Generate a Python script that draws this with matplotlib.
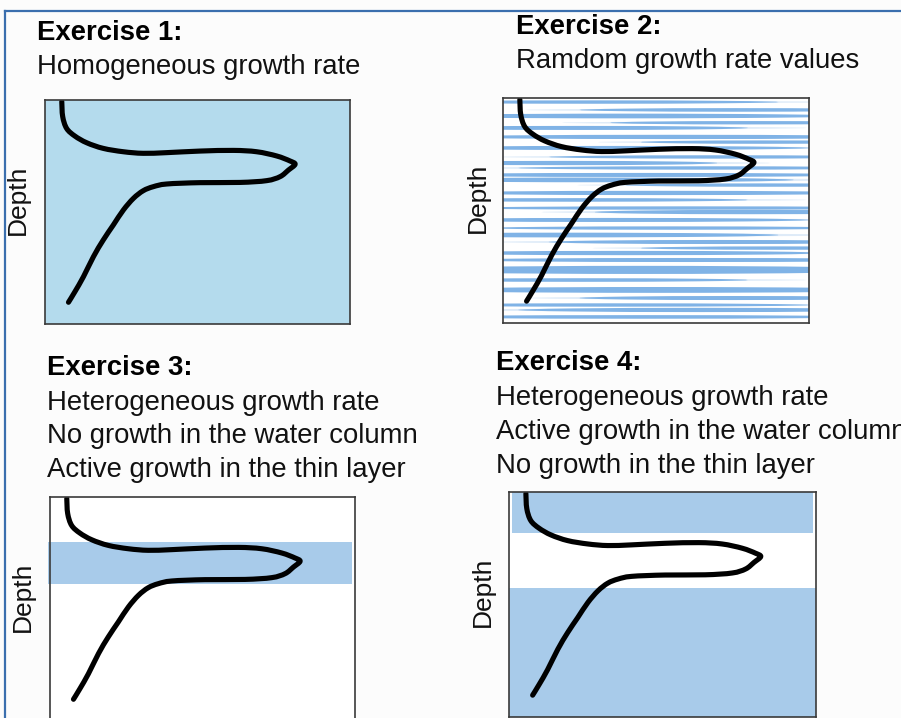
import numpy as np
import matplotlib
matplotlib.use("Agg")
import matplotlib.pyplot as plt
from matplotlib.path import Path
from matplotlib.patches import PathPatch, Ellipse, Rectangle
from matplotlib.lines import Line2D

plt.rcParams['font.family'] = ['Liberation Sans', 'DejaVu Sans']

W, H = 901, 718

# profile curve (x = concentration, depth = fraction of box height from top)
curve_x = [0.055, 0.058, 0.071, 0.098, 0.137, 0.191, 0.257, 0.322, 0.399, 0.508,
           0.618, 0.694, 0.760, 0.803, 0.820, 0.798, 0.771, 0.727, 0.639, 0.508,
           0.399, 0.355, 0.322, 0.290, 0.257, 0.224, 0.191, 0.159, 0.126, 0.098, 0.077]
curve_depth = [0.007, 0.074, 0.127, 0.161, 0.191, 0.216, 0.231, 0.238, 0.235, 0.228,
               0.225, 0.231, 0.250, 0.272, 0.287, 0.313, 0.342, 0.360, 0.368, 0.369,
               0.375, 0.387, 0.405, 0.439, 0.491, 0.558, 0.625, 0.699, 0.789, 0.856, 0.903]

# exercise 2: random growth rate streaks (depth, thickness, centre, length)
streak_depth = [0.018, 0.053, 0.080, 0.110, 0.133, 0.173, 0.196, 0.222, 0.262, 0.289,
                0.311, 0.342, 0.364, 0.387, 0.422, 0.453, 0.489, 0.507, 0.542, 0.578,
                0.609, 0.640, 0.667, 0.689, 0.720, 0.764, 0.809, 0.853, 0.889, 0.920,
                0.942, 0.973]
streak_thick = [0.015, 0.016, 0.021, 0.015, 0.018, 0.019, 0.015, 0.018, 0.015, 0.019,
                0.015, 0.018, 0.021, 0.015, 0.019, 0.016, 0.015, 0.019, 0.018, 0.015,
                0.021, 0.018, 0.015, 0.019, 0.018, 0.036, 0.016, 0.026, 0.018, 0.015,
                0.019, 0.016]
streak_center = [0.30, 0.75, 0.40, 0.80, 0.25, 0.55, 0.85, 0.35, 0.70, 0.20,
                 0.65, 0.45, 0.30, 0.85, 0.50, 0.25, 0.60, 0.80, 0.35, 0.55,
                 0.20, 0.70, 0.90, 0.40, 0.60, 0.45, 0.25, 0.50, 0.75, 0.35,
                 0.65, 0.45]
streak_length = [1.2, 1.0, 1.4, 0.9, 1.1, 1.5, 0.8, 1.3, 1.1, 1.0,
                 1.2, 1.5, 1.3, 0.9, 1.4, 1.1, 1.5, 1.0, 1.3, 1.2,
                 1.4, 1.1, 0.9, 1.3, 1.5, 1.7, 1.1, 1.6, 1.0, 1.3,
                 1.2, 1.5]

# exercise 3: thin layer with growth
thin_layer = (0.20, 0.39)
# exercise 4: water column with growth (above and below the thin layer)
column_zones = [(0.0, 0.18), (0.427, 1.0)]

titles = ["Exercise 1:", "Exercise 2:", "Exercise 3:", "Exercise 4:"]
subtitles = [
    ["Homogeneous growth rate"],
    ["Ramdom growth rate values"],
    ["Heterogeneous growth rate", "No growth in the water column",
     "Active growth in the thin layer"],
    ["Heterogeneous growth rate", "Active growth in the water column",
     "No growth in the thin layer"],
]

# layout in pixels: box (left, top, right, bottom), title x / baseline, line baselines, depth label centre
boxes = [(45, 100, 350, 324), (503, 98, 809, 323), (50, 497, 355, 721), (509, 492, 816, 717)]
title_pos = [(37, 40.5), (515.5, 34.3), (47, 375), (495.5, 370.5)]
line_base = [[74], [68.3], [410, 443.3, 476.7], [405, 439, 472.7]]
depth_pos = [(18, 200), (477.5, 198), (23, 597), (483, 592)]

PANEL1_BLUE = '#b4dbed'
BAND_BLUE = '#a8cbea'
STREAK_BLUE = '#80b3e6'


def fx(x):
    return x / W


def fy(y):
    return 1 - y / H


def smooth_path(xs, ys):
    # Catmull-Rom through the points, drawn as cubic Bezier segments
    p = np.column_stack([xs, ys])
    p = np.vstack([p[0], p, p[-1]])
    verts = [p[1]]
    codes = [Path.MOVETO]
    for i in range(1, len(p) - 2):
        c1 = p[i] + (p[i + 1] - p[i - 1]) / 6
        c2 = p[i + 1] - (p[i + 2] - p[i]) / 6
        verts += [c1, c2, p[i + 1]]
        codes += [Path.CURVE4] * 3
    return Path(verts, codes)


fig = plt.figure(figsize=(W / 100, H / 100), dpi=100, facecolor='#fcfcfc')

# outer blue frame (top and left)
fig.add_artist(Line2D([fx(5), 1.0], [fy(11), fy(11)], color='#3b6fae', lw=1.6))
fig.add_artist(Line2D([fx(5), fx(5)], [fy(11), 0.0], color='#3b6fae', lw=1.6))

axes = []
for i, (l, t, r, b) in enumerate(boxes):
    ax = fig.add_axes([fx(l), fy(b), fx(r) - fx(l), (b - t) / H])
    ax.set_xlim(0, 1)
    ax.set_ylim(1, 0)
    ax.set_xticks([])
    ax.set_yticks([])
    ax.set_facecolor('white')
    for s in ax.spines.values():
        s.set_color('#3a3a3a')
        s.set_linewidth(1.2)
        s.set_zorder(5)
    axes.append(ax)

# exercise 1: homogeneous
axes[0].set_facecolor(PANEL1_BLUE)

# exercise 2: random streaks, faint halo + core
for d, th, c, ln in zip(streak_depth, streak_thick, streak_center, streak_length):
    axes[1].add_patch(Ellipse((c, d), ln * 1.35, th * 0.7, facecolor=STREAK_BLUE,
                              edgecolor='none', alpha=0.25, zorder=1))
    axes[1].add_patch(Ellipse((c, d), ln, th, facecolor=STREAK_BLUE,
                              edgecolor='none', zorder=1))

# exercise 3: thin layer band
axes[2].add_patch(Rectangle((-0.007, thin_layer[0]), 0.997, thin_layer[1] - thin_layer[0],
                            facecolor=BAND_BLUE, edgecolor='none', clip_on=False, zorder=1))

# exercise 4: water column bands
top, bot = column_zones
axes[3].add_patch(Rectangle((0.01, top[0]), 0.98, top[1] - top[0],
                            facecolor=BAND_BLUE, edgecolor='none', zorder=1))
axes[3].add_patch(Rectangle((0.0, bot[0]), 1.0, bot[1] - bot[0],
                            facecolor=BAND_BLUE, edgecolor='none', zorder=1))

for ax in axes:
    ax.add_patch(PathPatch(smooth_path(curve_x, curve_depth), fill=False, lw=3.7,
                           edgecolor='black', capstyle='round', joinstyle='round', zorder=3))

for i in range(4):
    tx, ty = title_pos[i]
    fig.text(fx(tx), fy(ty), titles[i], fontsize=19.8, fontweight='bold',
             ha='left', va='baseline')
    for line, yb in zip(subtitles[i], line_base[i]):
        fig.text(fx(tx), fy(yb), line, fontsize=19.8, ha='left', va='baseline',
                 color='#111111')
    dx, dy = depth_pos[i]
    fig.text(fx(dx), fy(dy), "Depth", fontsize=19, rotation=90,
             ha='center', va='center', color='#111111')

fig.savefig('out.png', dpi=100, facecolor=fig.get_facecolor())
